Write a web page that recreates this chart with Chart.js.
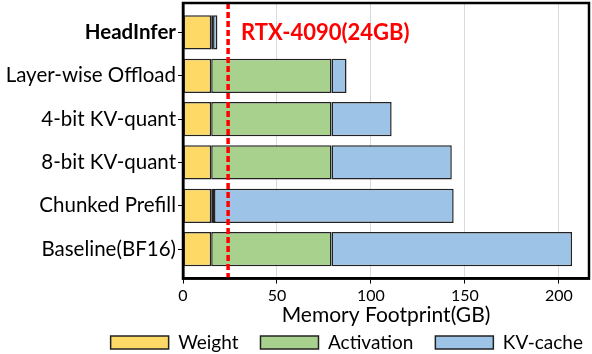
<!DOCTYPE html>
<html>
<head>
<meta charset="utf-8">
<script src="https://cdn.jsdelivr.net/npm/chart.js@4.4.0/dist/chart.umd.min.js"></script>
<style>
  html, body { margin: 0; padding: 0; background: #fff; }
  #wrap { width: 592px; height: 354px; }
</style>
</head>
<body>
<div id="wrap"><canvas id="memChart"></canvas></div>
<script>
const methods = ['HeadInfer', 'Layer-wise Offload', '4-bit KV-quant', '8-bit KV-quant', 'Chunked Prefill', 'Baseline(BF16)'];
const weightGB = [15, 15, 15, 15, 15, 15];
const activationGB = [1, 64, 64, 64, 1.5, 64];
const kvCacheGB = [2.3, 8, 32, 64, 127.5, 128];
const xTicks = [0, 50, 100, 150, 200];
const gpuLimitGB = 24;
const gpuLabel = 'RTX-4090(24GB)';

const fontFamily = 'Lato, "Open Sans", sans-serif';
const edge = '#222';

function points(arr) {
    return arr.map((v, i) => ({ x: v, y: i }));
}

// frame + gpu memory limit line
const overlay = {
    id: 'overlay',
    afterLayout(chart) {
        // legend sits a bit right of the default 'end' spot
        chart.legend.left += 16;
        chart.legend.right += 16;
    },
    afterDatasetsDraw(chart) {
        const { ctx, chartArea: a, scales } = chart;
        const x = scales.x.getPixelForValue(gpuLimitGB);
        ctx.save();
        ctx.strokeStyle = '#ff0000';
        ctx.lineWidth = 3.5;
        ctx.setLineDash([6, 3]);
        ctx.beginPath();
        ctx.moveTo(x, a.top);
        ctx.lineTo(x, a.bottom);
        ctx.stroke();
        ctx.setLineDash([]);
        ctx.fillStyle = '#ff0000';
        ctx.font = 'bold 22px ' + fontFamily;
        ctx.textBaseline = 'middle';
        ctx.fillText(gpuLabel, x + 13, scales.y.getPixelForValue(0));
        ctx.strokeStyle = '#000';
        ctx.lineWidth = 2.5;
        ctx.strokeRect(a.left, a.top, a.right - a.left, a.bottom - a.top);
        ctx.restore();
    }
};

document.addEventListener('DOMContentLoaded', function () {
    const c = document.getElementById('memChart').getContext('2d');
    new Chart(c, {
        type: 'bar',
        data: {
            datasets: [
                { label: 'Weight', data: points(weightGB), backgroundColor: 'rgb(255, 217, 102)' },
                { label: 'Activation', data: points(activationGB), backgroundColor: 'rgb(169, 209, 142)' },
                { label: 'KV-cache', data: points(kvCacheGB), backgroundColor: 'rgb(157, 195, 230)' }
            ]
        },
        options: {
            indexAxis: 'y',
            responsive: true,
            maintainAspectRatio: false,
            animation: false,
            layout: { padding: { top: 3, right: 3, left: 0, bottom: -8 } },
            datasets: {
                bar: {
                    borderColor: edge,
                    borderWidth: 1.5,
                    borderSkipped: false,
                    barPercentage: 0.79,
                    categoryPercentage: 1
                }
            },
            scales: {
                x: {
                    stacked: true,
                    bounds: 'data',
                    min: 0,
                    max: 216,
                    afterBuildTicks: s => { s.ticks = xTicks.map(v => ({ value: v })); },
                    grid: {
                        color: ctx => ctx.tick && ctx.tick.value === 0 ? 'rgba(0,0,0,0)' : '#d9d9d9',
                        tickColor: '#000',
                        tickLength: 5,
                        lineWidth: 1
                    },
                    border: { color: '#000', width: 2.5 },
                    ticks: { color: '#000', font: { family: fontFamily, size: 16 }, padding: 3 },
                    title: {
                        display: true,
                        text: 'Memory Footprint(GB)',
                        color: '#000',
                        font: { family: fontFamily, size: 21 },
                        padding: { top: -6, bottom: -17 }
                    }
                },
                y: {
                    type: 'linear',
                    stacked: true,
                    reverse: true,
                    offset: false,
                    bounds: 'data',
                    min: -0.68,
                    max: 5.68,
                    afterBuildTicks: s => { s.ticks = methods.map((m, i) => ({ value: i })); },
                    ticks: {
                        color: '#000',
                        padding: 2,
                        autoSkip: false,
                        callback: v => methods[v],
                        font: ctx => ({
                            family: fontFamily,
                            size: 20.5,
                            weight: ctx.tick && ctx.tick.value === 0 ? 'bold' : 'normal'
                        })
                    },
                    afterFit: s => { s.width = 183; s.paddingTop = 0; s.paddingBottom = 0; },
                    grid: { offset: false, drawOnChartArea: false, tickColor: '#000', tickLength: 5 },
                    border: { color: '#000', width: 2.5 }
                }
            },
            plugins: {
                legend: {
                    position: 'bottom',
                    align: 'end',
                    labels: {
                        color: '#000',
                        boxWidth: 58,
                        boxHeight: 13,
                        padding: 22,
                        font: { family: fontFamily, size: 19 }
                    }
                },
                tooltip: { enabled: false }
            }
        },
        plugins: [overlay]
    });
});
</script>
</body>
</html>
